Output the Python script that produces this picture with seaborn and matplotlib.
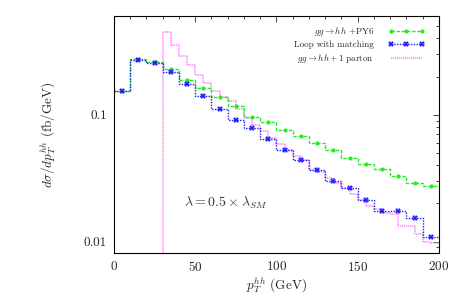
import numpy as np
import pandas as pd
import seaborn as sns
import matplotlib.pyplot as plt
from matplotlib.lines import Line2D
from matplotlib.ticker import FixedLocator, LogLocator, NullFormatter, MultipleLocator

# 10 GeV bins (lower edges) for the matched samples
bins10 = list(range(0, 200, 10))
green_vals = [0.153, 0.275, 0.262, 0.230, 0.188, 0.161, 0.139, 0.117, 0.096, 0.0876,
              0.0752, 0.0683, 0.0597, 0.0530, 0.0455, 0.0408, 0.0373, 0.0332, 0.0292, 0.0277]
blue_vals = [0.153, 0.270, 0.258, 0.217, 0.175, 0.140, 0.112, 0.091, 0.0785, 0.0646,
             0.0530, 0.0437, 0.0368, 0.0303, 0.0267, 0.0213, 0.0176, 0.0175, 0.0154, 0.0109]

# 5 GeV bins (lower edges) for the hh + 1 parton sample, starting at 30 GeV
bins5 = list(range(30, 200, 5))
pink_vals = [0.447, 0.357, 0.288, 0.248, 0.207, 0.178, 0.153, 0.139,
             0.128, 0.110, 0.095, 0.083, 0.074, 0.066, 0.059, 0.053,
             0.047, 0.044, 0.037, 0.0356, 0.0316, 0.0289, 0.0267, 0.0236,
             0.0213, 0.0190, 0.0181, 0.0167, 0.0166, 0.0134, 0.0133, 0.0114,
             0.0099, 0.0098]

labels = [r'$gg \to hh$ +PY6', 'Loop with matching', r'$gg \to hh + 1$ parton']

green = '#22ee22'
blue = '#1a1aff'
pink = '#ff80ff'

sns.set_style('white')
plt.rcParams['font.family'] = 'cmr10'
plt.rcParams['mathtext.fontset'] = 'cm'
plt.rcParams['axes.formatter.use_mathtext'] = True


def steps(lo, vals, width):
    x = np.append(lo, lo[-1] + width)
    y = np.append(vals, vals[-1])
    return pd.DataFrame({'x': x, 'y': y})


fig = plt.figure(figsize=(4.63, 2.96), dpi=100)
ax = fig.add_axes([0.2462, 0.1443, 0.7018, 0.8017])
ax.set_yscale('log')

g = steps(bins10, green_vals, 10)
b = steps(bins10, blue_vals, 10)
p = steps(bins5, pink_vals, 5)

pink_ls = (0, (0.8, 0.5))
green_ls = (0, (2.5, 1.2))
blue_ls = (0, (1, 1))

sns.lineplot(data=p, x='x', y='y', ax=ax, color=pink, lw=1.1, ls=pink_ls,
             drawstyle='steps-post', estimator=None, legend=False)
ax.vlines(bins5[0], 1e-3, pink_vals[0], color=pink, lw=1.1, linestyles=[pink_ls])

sns.lineplot(data=g, x='x', y='y', ax=ax, color=green, lw=1.0, ls=green_ls,
             drawstyle='steps-post', estimator=None, legend=False)
sns.lineplot(data=b, x='x', y='y', ax=ax, color=blue, lw=1.0, ls=blue_ls,
             drawstyle='steps-post', estimator=None, legend=False)

centers = np.array(bins10) + 5
ax.plot(centers, green_vals, ls='none', marker='o', ms=3, color=green, mew=0)
ax.plot(centers, blue_vals, ls='none', marker='X', ms=4, color=blue, mew=0)

ax.set_xlim(0, 200)
ax.set_ylim(0.0081, 0.6)

ax.xaxis.set_major_locator(MultipleLocator(50))
ax.xaxis.set_minor_locator(MultipleLocator(10))
ax.yaxis.set_major_locator(FixedLocator([0.01, 0.1]))
ax.set_yticklabels(['0.01', '0.1'])
ax.yaxis.set_minor_locator(LogLocator(base=10, subs=np.arange(2, 10)))
ax.yaxis.set_minor_formatter(NullFormatter())
ax.tick_params(which='both', direction='in', top=True, right=True, labelsize=9.5, pad=5)
ax.tick_params(which='major', length=4, width=0.6)
ax.tick_params(which='minor', length=2, width=0.6)
for s in ax.spines.values():
    s.set_linewidth(0.8)
    s.set_color('black')

ax.set_xlabel(r'$p_T^{hh}$ (GeV)', fontsize=9.5, labelpad=1)
ax.set_ylabel(r'$d\sigma/dp_T^{hh}$ (fb/GeV)', fontsize=9.5)
ax.yaxis.set_label_coords(-0.175, 0.5)

ax.text(43, 0.0202, r'$\lambda = 0.5 \times \lambda_{SM}$', fontsize=10, color='#333333',
        va='center')

handles = [
    Line2D([], [], color=green, lw=1.0, ls=green_ls, marker='o', ms=3, mew=0, markevery=[1]),
    Line2D([], [], color=blue, lw=1.0, ls=blue_ls, marker='X', ms=4, mew=0, markevery=[1]),
    Line2D([], [], color=pink, lw=1.1, ls=pink_ls),
]
leg = ax.legend(handles, labels, loc='upper right', frameon=False, markerfirst=False,
                fontsize=6.5, handlelength=4.0, handletextpad=1.6, labelspacing=0.35,
                bbox_to_anchor=(0.975, 0.99), numpoints=3, borderaxespad=0.3)

fig.savefig('out.png', dpi=100)
